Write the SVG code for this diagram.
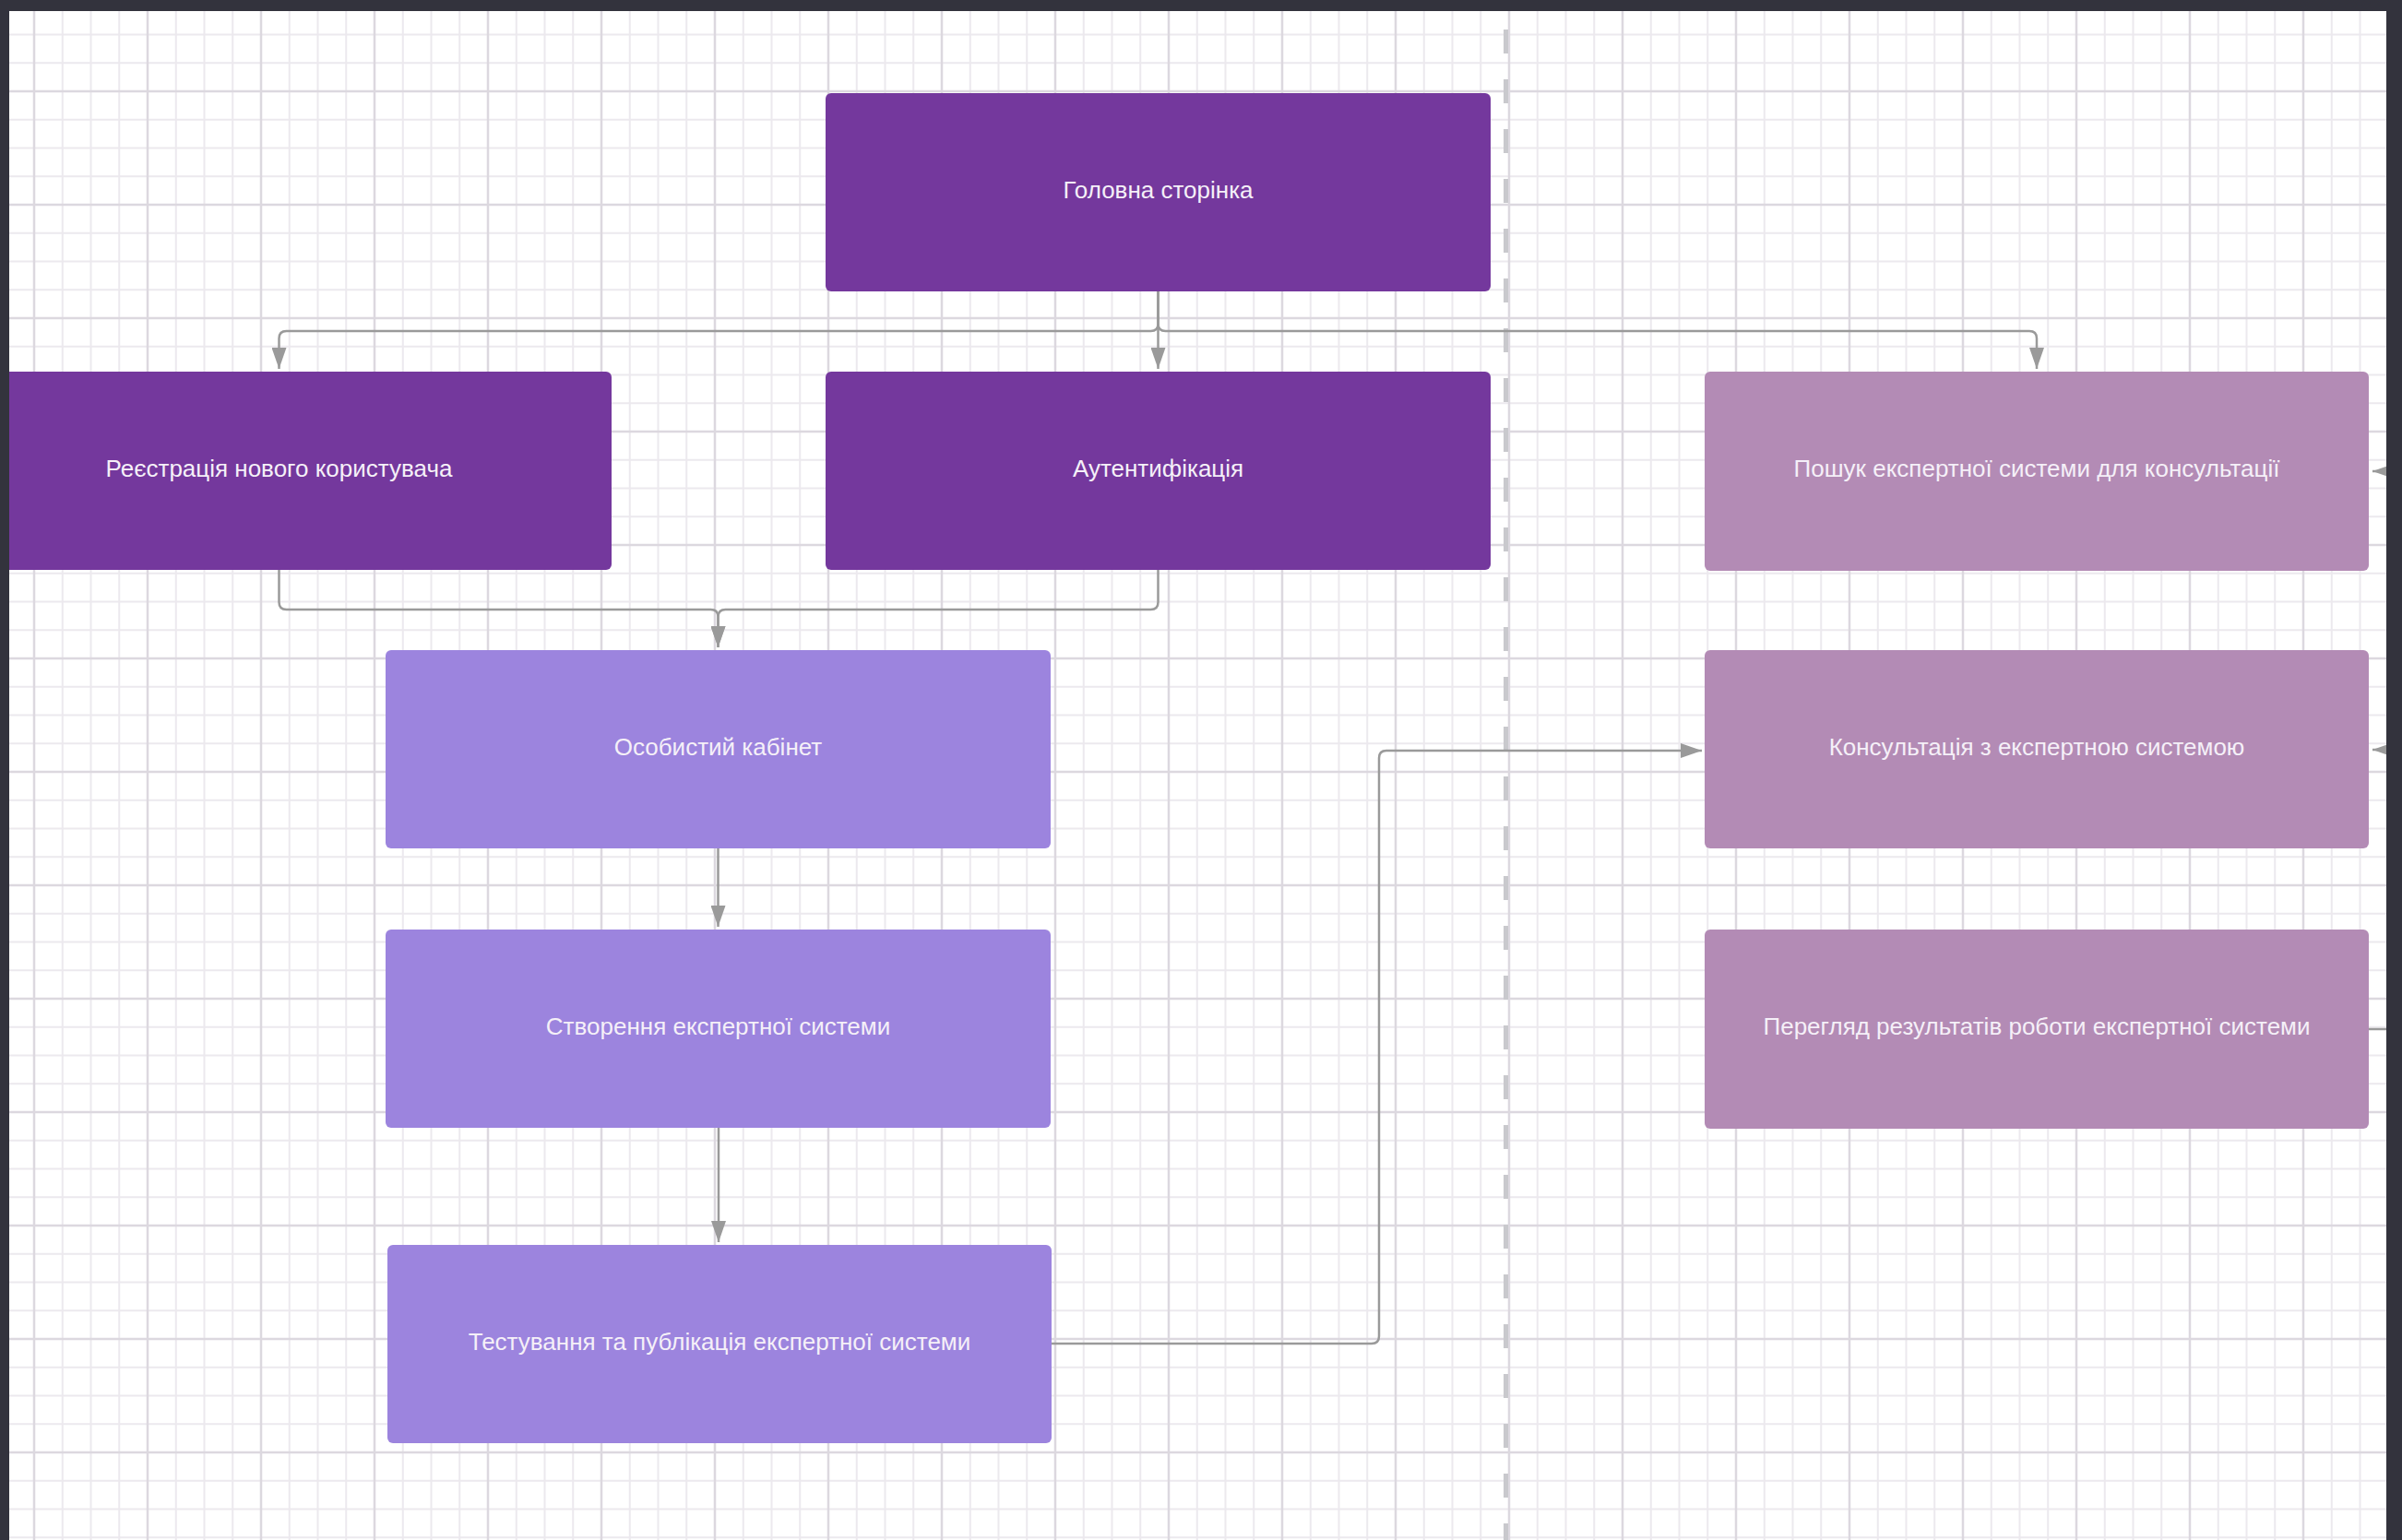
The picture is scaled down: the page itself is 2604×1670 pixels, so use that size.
<svg xmlns="http://www.w3.org/2000/svg" width="2604" height="1670" viewBox="0 0 2604 1670">
<defs>
<style>
.n1{fill:#74389d}
.n2{fill:#9c84de}
.n3{fill:#b38bb5}
.t{font-family:"Liberation Sans",Arial,sans-serif;font-size:26px;fill:#f5f0f8;text-anchor:middle}
.c{fill:none;stroke:#9a9a9a;stroke-width:2.5}
.mi{stroke:#ece9ee;stroke-width:2}
.ma{stroke:#dcd8df;stroke-width:2.5}
</style>
<marker id="ah" markerUnits="userSpaceOnUse" markerWidth="24" markerHeight="16" refX="23" refY="8" orient="auto">
<path d="M0,0 L23,8 L0,16 Z" fill="#9a9a9a"/>
</marker>
<pattern id="grid" x="37" y="99" width="123" height="123" patternUnits="userSpaceOnUse">
<path class="mi" d="M30.75,0V123M61.5,0V123M92.25,0V123M0,30.75H123M0,61.5H123M0,92.25H123"/>
<path class="ma" d="M0,0V123M123,0V123M0,0H123M0,123H123"/>
</pattern>
</defs>
<rect x="0" y="0" width="2604" height="1670" fill="#ffffff"/>
<rect x="0" y="0" width="2604" height="1670" fill="url(#grid)"/>
<line x1="1632.5" y1="32" x2="1632.5" y2="1670" stroke="#c9c9cd" stroke-width="5" stroke-dasharray="26 28"/>
<g id="connectors">
<path class="c" marker-end="url(#ah)" d="M1255.5,316 V400"/>
<path class="c" marker-end="url(#ah)" d="M1255.5,316 V351 Q1255.5,359 1247.5,359 H310.5 Q302.5,359 302.5,367 V400"/>
<path class="c" marker-end="url(#ah)" d="M1255.5,316 V351 Q1255.5,359 1263.5,359 H2200 Q2208,359 2208,367 V400"/>
<path class="c" marker-end="url(#ah)" d="M302.5,618 V653 Q302.5,661 310.5,661 H770.5 Q778.5,661 778.5,669 V702"/>
<path class="c" marker-end="url(#ah)" d="M1255.5,618 V653 Q1255.5,661 1247.5,661 H786.5 Q778.5,661 778.5,669 V702"/>
<path class="c" marker-end="url(#ah)" d="M778.5,920 V1005"/>
<path class="c" marker-end="url(#ah)" d="M779,1223 V1347"/>
<path class="c" marker-end="url(#ah)" d="M1140,1457 H1487 Q1495,1457 1495,1449 V822 Q1495,814 1503,814 H1845"/>
<path class="c" marker-end="url(#ah)" d="M2640,511 H2572"/>
<path class="c" marker-end="url(#ah)" d="M2640,813 H2572"/>
<path class="c" d="M2568,1116 H2640"/>
</g>
<g id="node-golovna"><rect class="n1" x="895" y="101" width="721" height="215" rx="6"/><text class="t" x="1255.5" y="214.5">Головна сторінка</text></g>
<g id="node-reiestratsiia"><rect class="n1" x="-58" y="403" width="721" height="215" rx="6"/><text class="t" x="302.5" y="516.5">Реєстрація нового користувача</text></g>
<g id="node-autentyfikatsiia"><rect class="n1" x="895" y="403" width="721" height="215" rx="6"/><text class="t" x="1255.5" y="516.5">Аутентифікація</text></g>
<g id="node-poshuk"><rect class="n3" x="1848" y="403" width="720" height="216" rx="6"/><text class="t" x="2208" y="517">Пошук експертної системи для консультації</text></g>
<g id="node-kabinet"><rect class="n2" x="418" y="705" width="721" height="215" rx="6"/><text class="t" x="778.5" y="818.5">Особистий кабінет</text></g>
<g id="node-konsultatsiia"><rect class="n3" x="1848" y="705" width="720" height="215" rx="6"/><text class="t" x="2208" y="818.5">Консультація з експертною системою</text></g>
<g id="node-stvorennia"><rect class="n2" x="418" y="1008" width="721" height="215" rx="6"/><text class="t" x="778.5" y="1121.5">Створення експертної системи</text></g>
<g id="node-perehliad"><rect class="n3" x="1848" y="1008" width="720" height="216" rx="6"/><text class="t" x="2208" y="1122">Перегляд результатів роботи експертної системи</text></g>
<g id="node-testuvannia"><rect class="n2" x="420" y="1350" width="720" height="215" rx="6"/><text class="t" x="780" y="1463.5">Тестування та публікація експертної системи</text></g>
<g id="frame" fill="#33333d">
<rect x="0" y="0" width="2604" height="12"/>
<rect x="0" y="0" width="10" height="1670"/>
<rect x="2587" y="0" width="17" height="1670"/>
</g>
</svg>
